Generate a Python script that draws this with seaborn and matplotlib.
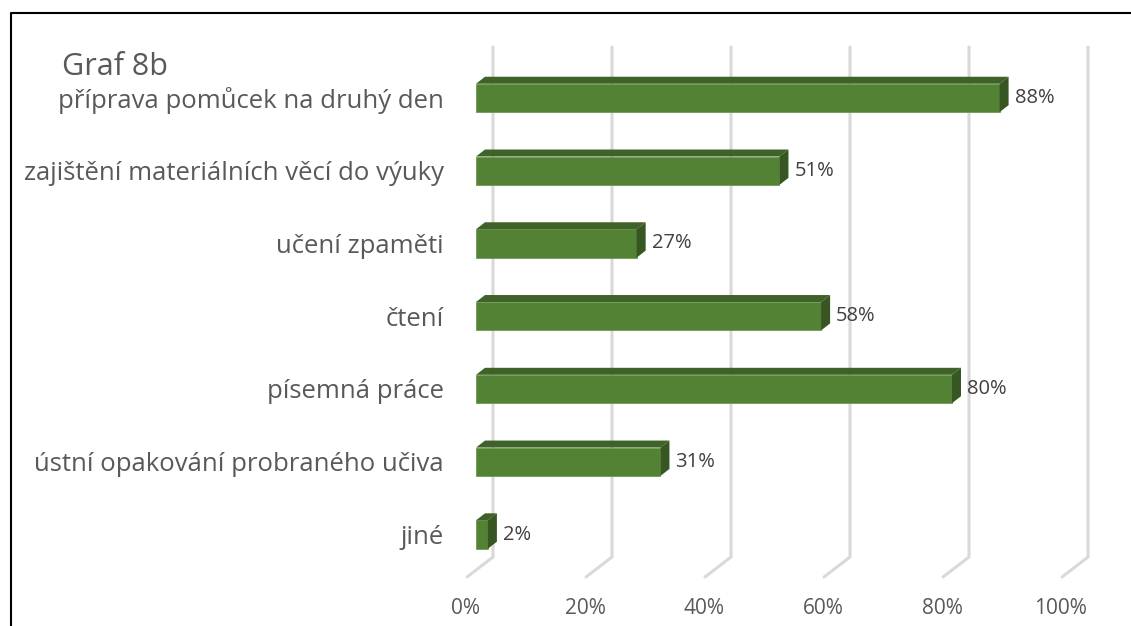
import numpy as np
import pandas as pd
import matplotlib
matplotlib.use('Agg')
import matplotlib.pyplot as plt
import seaborn as sns
from matplotlib.patches import Polygon
from matplotlib.lines import Line2D
from matplotlib.transforms import IdentityTransform, offset_copy, ScaledTranslation

# data
categories = [
    'příprava pomůcek na druhý den',
    'zajištění materiálních věcí do výuky',
    'učení zpaměti',
    'čtení',
    'písemná práce',
    'ústní opakování probraného učiva',
    'jiné',
]
values = [0.88, 0.51, 0.27, 0.58, 0.80, 0.31, 0.02]
value_labels = ['88%', '51%', '27%', '58%', '80%', '31%', '2%']
xticks = [0.0, 0.2, 0.4, 0.6, 0.8, 1.0]
xtick_labels = ['0%', '20%', '40%', '60%', '80%', '100%']
title = 'Graf 8b'

FRONT = '#548235'
TOP = '#3f6229'
SIDE = '#375623'
GRID = '#d9d9d9'
TXT = '#595959'

sns.set_style('white')
plt.rcParams['font.family'] = ['Open Sans', 'DejaVu Sans']

W, H = 1131, 626
fig = plt.figure(figsize=(W / 100, H / 100), dpi=100)
# front plane of the 3d box, in pixels: x 476..1071, y 47..577
ax = fig.add_axes([476 / W, 1 - 577 / H, 595 / W, 530 / H])

df = pd.DataFrame({'kat': categories, 'podil': values})
sns.barplot(data=df, x='podil', y='kat', orient='h', color=FRONT, saturation=1,
            width=0.39, edgecolor='#6f9a52', linewidth=0.6, ax=ax, zorder=3)

ax.set_xlim(0, 1)
ax.set_ylim(6.584, -0.70)
for s in ax.spines.values():
    s.set_visible(False)
ax.tick_params(length=0)
ax.set_xlabel('')
ax.set_ylabel('')

# y labels
ax.set_yticks(range(len(categories)))
ax.set_yticklabels(categories, fontsize=18.5, color=TXT)
ax.tick_params(axis='y', pad=23)

# x labels, shifted to the front edge of the floor
ax.set_xticks(xticks)
ax.set_xticklabels(xtick_labels, fontsize=15, color=TXT)
ax.tick_params(axis='x', pad=15)
for lab in ax.get_xticklabels():
    lab.set_transform(lab.get_transform() + ScaledTranslation(-10 / 100, 0, fig.dpi_scale_trans))

# 3d-ish gridlines: back wall + floor diagonal
back_dx, back_dy, floor_dx = 17, 20, -9
y_top = ax.transAxes.transform((0, 1))[1]
y_bot = ax.transAxes.transform((0, 0))[1]
for t in xticks:
    xd = ax.transData.transform((t, 0))[0]
    ax.add_line(Line2D([xd + back_dx, xd + back_dx, xd + floor_dx],
                       [y_top, y_bot + back_dy, y_bot],
                       transform=IdentityTransform(), color=GRID, lw=2.2,
                       solid_joinstyle='miter', zorder=0, clip_on=False))

# top and side faces of the bars
ddx, ddy = 9, 7
for p in ax.patches:
    x0, y0 = p.get_x(), p.get_y()
    (xl, yt), (xr, yb) = ax.transData.transform([(x0, y0), (x0 + p.get_width(), y0 + p.get_height())])
    # yt is the upper edge on screen (y axis inverted)
    top = Polygon([(xl, yt), (xr, yt), (xr + ddx, yt + ddy), (xl + ddx, yt + ddy)],
                  closed=True, transform=IdentityTransform(), facecolor=TOP,
                  edgecolor='none', zorder=3, clip_on=False)
    side = Polygon([(xr, yb), (xr, yt), (xr + ddx, yt + ddy), (xr + ddx, yb + ddy)],
                   closed=True, transform=IdentityTransform(), facecolor=SIDE,
                   edgecolor='none', zorder=3, clip_on=False)
    ax.add_patch(top)
    ax.add_patch(side)

# value labels
lab_tr = offset_copy(ax.transData, fig=fig, x=15, y=0, units='dots')
for i, (v, s) in enumerate(zip(values, value_labels)):
    ax.text(v, i, s, transform=lab_tr, ha='left', va='center',
            fontsize=14.5, color='#404040', zorder=4)

fig.text(62 / W, 1 - 52 / H, title, ha='left', va='top', fontsize=22, color=TXT)

# outer frame (only left and top visible)
fig.add_artist(Line2D([11 / W, 11 / W, 1], [0, 1 - 13 / H, 1 - 13 / H],
                      transform=fig.transFigure, color='black', lw=1.5))

fig.savefig('out.png', dpi=100)
